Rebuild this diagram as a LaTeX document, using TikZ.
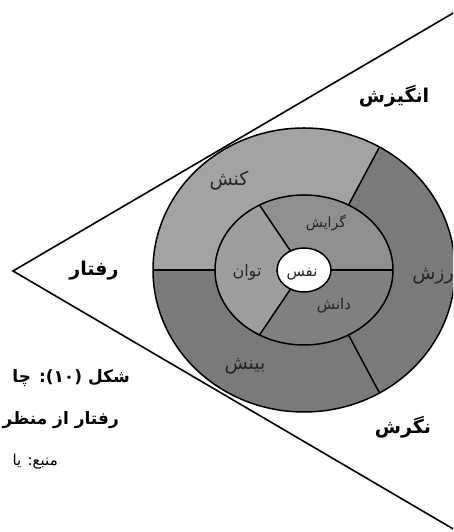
\documentclass[tikz,border=0pt]{standalone}
\usepackage{fontspec}
\usepackage{tikz}
\usetikzlibrary{calc}
\TeXXeTstate=1
\newfontfamily\farsi[Script=Arabic]{DejaVu Sans}
\newcommand{\fatext}[1]{\beginR #1\endR}
\definecolor{ringlight}{HTML}{A3A3A3}
\definecolor{ringmid}{HTML}{8F8F8F}
\definecolor{ringpale}{HTML}{9E9E9E}
\definecolor{ringdark}{HTML}{7A7A7A}
\definecolor{ringdeep}{HTML}{808080}

\begin{document}
\begin{tikzpicture}[x=1pt, y=1pt,
    big/.style={font=\farsi\bfseries\fontsize{19}{23}\selectfont, inner sep=0pt},
    small/.style={font=\farsi\fontsize{14}{16}\selectfont, text=black!85, inner sep=0pt},
    large/.style={font=\farsi\fontsize{19}{22}\selectfont, text=black!85, inner sep=0pt},
    captext/.style={font=\farsi\bfseries\fontsize{17}{21}\selectfont, inner sep=0pt, anchor=east},
    edge/.style={line width=1.5pt}]
    \useasboundingbox (0,0) rectangle (453,532);
    \clip (0,0) rectangle (453,532);
    \fill[white] (0,0) rectangle (453,532);

    \coordinate (c) at (304,262);
    \coordinate (apex) at (13,261);
    \coordinate (topend) at (455,520);
    \coordinate (botend) at (455,2);

    % outer ring
    \foreach \a/\b/\col in {60/180/ringlight, -60/60/ringdark, 180/300/ringdark}
        \fill[\col] ($(c)+(\a:151 and 142)$) arc[start angle=\a, end angle=\b, x radius=151, y radius=142]
            -- ($(c)+(\b:89 and 75)$) arc[start angle=\b, end angle=\a, x radius=89, y radius=75] -- cycle;
    % inner ring
    \foreach \a/\b/\col in {0/120/ringmid, 120/240/ringpale, 240/360/ringdeep}
        \fill[\col] ($(c)+(\a:89 and 75)$) arc[start angle=\a, end angle=\b, x radius=89, y radius=75]
            -- ($(c)+(\b:27 and 22)$) arc[start angle=\b, end angle=\a, x radius=27, y radius=22] -- cycle;

    \draw[edge] (c) ellipse[x radius=151, y radius=142];
    \draw[edge] (c) ellipse[x radius=89, y radius=75];
    \draw[edge, fill=white] (c) ellipse[x radius=27, y radius=22];
    \foreach \a in {60,180,300}
        \draw[edge] ($(c)+(\a:89 and 75)$) -- ($(c)+(\a:151 and 142)$);
    \foreach \a in {0,120,240}
        \draw[edge] ($(c)+(\a:27 and 22)$) -- ($(c)+(\a:89 and 75)$);

    \draw[line width=1.6pt] (topend) -- (apex) -- (botend);

    \node[big] (angizesh) at (394,436) {\fatext{انگیزش}};
    \node[big] (raftar) at (94,261) {\fatext{رفتار}};
    \node[big] (negaresh) at (403,105) {\fatext{نگرش}};

    \node[large] (konesh) at (229,351) {\fatext{کنش}};
    \node[small] (gerayesh) at (326,309) {\fatext{گرایش}};
    \node[small, font=\farsi\fontsize{16}{18}\selectfont] (tavan) at (247,260) {\fatext{توان}};
    \node[small, font=\farsi\fontsize{15}{17}\selectfont] (nafs) at (302,258) {\fatext{نفس}};
    \node[small, font=\farsi\fontsize{15}{17}\selectfont] (danesh) at (334,226) {\fatext{دانش}};
    \node[large] (binesh) at (245,166) {\fatext{بینش}};
    \node[large, anchor=east] (arzesh) at (454,256) {\fatext{رزش}};

    \node[captext] (cap1) at (130,154) {\fatext{شکل (۱۰): چا}};
    \node[captext] (cap2) at (119,112) {\fatext{رفتار از منظر}};
    \node[captext, font=\farsi\fontsize{15}{18}\selectfont] (cap3) at (58,70) {\fatext{منبع: یا}};
\end{tikzpicture}
\end{document}
